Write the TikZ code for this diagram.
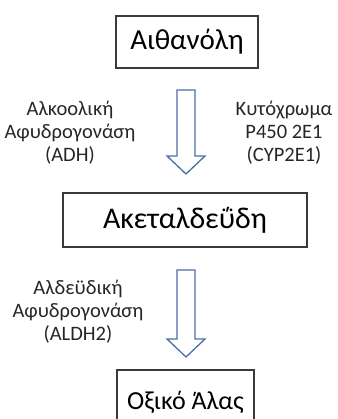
\documentclass[tikz,border=0pt]{standalone}
\usepackage{fontspec}
\setmainfont{Carlito}
\usetikzlibrary{positioning, calc}

\definecolor{arrowblue}{HTML}{4A6FA5}
\definecolor{boxgray}{HTML}{3A3A3A}

\begin{document}
\begin{tikzpicture}[x=1pt, y=-1pt,
    stage/.style={rectangle, draw=boxgray, line width=1.5pt, align=center, inner sep=0pt},
    enzyme/.style={align=center, font=\fontsize{20.5}{23}\selectfont, text=black!85},
    blockarrow/.style={draw=arrowblue, line width=1.3pt, fill=white, line join=miter}]
      \clip (0,0) rectangle (337,419);

      % Stages (boxes)
      \node[stage, minimum width=142pt, minimum height=52pt, font=\fontsize{29}{34}\selectfont] (eth) at (187,42) {Αιθανόλη};
      \node[stage, minimum width=244pt, minimum height=54pt, font=\fontsize{30}{35}\selectfont] (acet) at (185,220) {Ακεταλδεΰδη};
      \node[stage, minimum width=137pt, minimum height=64pt, font=\fontsize{26}{31}\selectfont] (acid) at (185.5,402) {Οξικό Άλας};

      % Enzymes
      \node[enzyme] (adh) at (70,133) {Αλκοολική\\Αφυδρογονάση\\(ADH)};
      \node[enzyme] (cyp) at (284,133) {Κυτόχρωμα\\P450 2E1\\(CYP2E1)};
      \node[enzyme] (aldh) at (78,312) {Αλδεϋδική\\Αφυδρογονάση\\(ALDH2)};

      % Block arrows
      \coordinate (a1) at (186,90);
      \coordinate (a2) at (186,270);
      \draw[blockarrow] ($(a1)+(-9,0)$) -- ++(18,0) -- ++(0,66) -- ++(10,0) -- ($(a1)+(0,84)$)
        -- ($(a1)+(-19,66)$) -- ++(10,0) -- cycle;
      \draw[blockarrow] ($(a2)+(-9,0)$) -- ++(18,0) -- ++(0,69) -- ++(10,0) -- ($(a2)+(0,87)$)
        -- ($(a2)+(-19,69)$) -- ++(10,0) -- cycle;
\end{tikzpicture}
\end{document}
